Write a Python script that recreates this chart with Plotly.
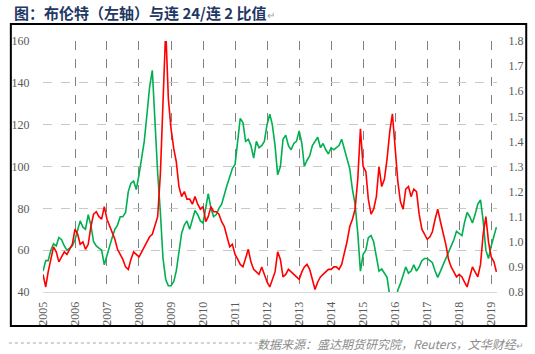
import plotly.graph_objects as go
import pandas as pd

# Monthly samples, Jan 2005 .. Mar 2019
brent = [
    50, 55, 55, 60, 63, 62, 66, 65, 62, 60, 61, 62,          # 2005
    65, 70, 74, 71, 70, 77, 72, 64, 62, 61, 60, 53,          # 2006
    58, 62, 66, 70, 72, 76, 76, 78, 88, 92, 93, 89,          # 2007
    96, 104, 112, 125, 138, 146, 120, 97, 78, 56, 46, 43,    # 2008
    43, 45, 50, 60, 68, 72, 74, 70, 75, 79, 77, 74,          # 2009
    73, 81, 87, 80, 76, 77, 80, 82, 87, 91, 95, 99,          # 2010
    101, 112, 123, 121, 112, 113, 110, 104, 112, 109, 110, 112,  # 2011
    120, 125, 120, 110, 96, 100, 113, 115, 110, 108, 111, 112,   # 2012
    117, 111, 100, 103, 105, 110, 112, 114, 109, 111, 108, 106,  # 2013
    109, 108, 109, 110, 113, 108, 103, 99, 89, 82, 68, 50,       # 2014
    58, 60, 66, 67, 64, 56, 50, 51, 49, 47, 38, 32,          # 2015
    34, 41, 44, 48, 52, 49, 50, 53, 50, 52, 55, 56,          # 2016
    56, 55, 54, 50, 47, 50, 53, 56, 59, 62, 65, 69,          # 2017
    68, 67, 73, 78, 76, 73, 77, 82, 84, 74, 60, 56,          # 2018
    62, 67, 71,                                              # 2019
]
ratio = [
    0.87, 0.82, 0.88, 0.93, 0.98, 0.96, 0.92, 0.94, 0.96, 0.95, 0.97, 0.99,  # 2005
    1.05, 1.03, 0.99, 1.00, 0.97, 0.99, 1.06, 1.11, 1.12, 1.10, 1.09, 1.14,  # 2006
    1.09, 1.06, 1.04, 1.01, 0.97, 0.95, 0.93, 0.90, 0.89, 0.93, 0.96, 0.95,  # 2007
    0.94, 0.96, 0.98, 1.00, 1.02, 1.03, 1.07, 1.10, 1.27, 1.58, 1.85, 1.57,  # 2008
    1.45, 1.37, 1.32, 1.22, 1.18, 1.20, 1.17, 1.17, 1.15, 1.18, 1.15, 1.13,  # 2009
    1.14, 1.08, 1.10, 1.14, 1.12, 1.12, 1.11, 1.08, 1.06, 1.02, 0.98, 0.99,  # 2010
    0.95, 0.93, 0.91, 0.90, 0.94, 0.97, 0.92, 0.89, 0.88, 0.87, 0.90, 0.87,  # 2011
    0.84, 0.82, 0.85, 0.88, 0.96, 0.93, 0.86, 0.87, 0.89, 0.88, 0.87, 0.86,  # 2012
    0.85, 0.88, 0.90, 0.91, 0.89, 0.85, 0.81, 0.84, 0.86, 0.87, 0.88, 0.89,  # 2013
    0.89, 0.90, 0.90, 0.89, 0.91, 0.95, 1.00, 1.06, 1.09, 1.13, 1.25, 1.45,  # 2014
    1.30, 1.28, 1.17, 1.11, 1.13, 1.18, 1.30, 1.22, 1.25, 1.33, 1.44, 1.51,  # 2015
    1.38, 1.24, 1.16, 1.13, 1.21, 1.22, 1.18, 1.21, 1.20, 1.11, 1.05, 1.03,  # 2016
    1.01, 1.02, 1.04, 1.09, 1.13, 1.08, 1.04, 0.99, 0.93, 0.90, 0.88, 0.86,  # 2017
    0.87, 0.86, 0.84, 0.82, 0.86, 0.90, 0.88, 0.86, 0.91, 1.03, 1.10, 1.00,  # 2018
    0.94, 0.92, 0.88,                                                        # 2019
]
dates = pd.date_range("2005-01-01", periods=len(brent), freq="MS")
years = list(range(2005, 2020))
year_labels = [str(y) for y in years]

title_text = "图：布伦特（左轴）与连 24/连 2 比值"
source_text = "数据来源：盛达期货研究院，Reuters，文华财经"

# plot-area geometry in pixels (for paper-coordinate decorations)
W, H = 535, 354
L, R, T, B = 36, 33, 41, 62
pw, ph = W - L - R, H - T - B
def px(x): return (x - L) / pw
def py(y): return (H - B - y) / ph

tickfont = dict(family="Liberation Serif", size=12, color="#595959")

fig = go.Figure()
fig.add_trace(go.Scatter(x=dates, y=brent, mode="lines", yaxis="y",
                         line=dict(color="#00B050", width=1.6), name="布伦特"))
fig.add_trace(go.Scatter(x=dates, y=ratio, mode="lines", yaxis="y2",
                         line=dict(color="#FF0000", width=1.6), name="连24/连2"))

fig.update_layout(
    width=W, height=H, autosize=False,
    margin=dict(l=L, r=R, t=T, b=B),
    paper_bgcolor="white", plot_bgcolor="white",
    showlegend=False,
    xaxis=dict(type="date", range=["2005-01-01", "2019-03-08"],
               tickvals=[f"{y}-01-01" for y in years], ticktext=year_labels,
               tickangle=-90, tickfont=tickfont,
               ticks="outside", ticklen=4, tickcolor="rgba(0,0,0,0)",
               showgrid=True, gridcolor="#808080", griddash="dash", gridwidth=1,
               showline=True, linecolor="#d9d9d9", linewidth=1, zeroline=False),
    yaxis=dict(range=[40, 160], dtick=20, tickfont=tickfont,
               ticks="outside", ticklen=10, tickcolor="rgba(0,0,0,0)",
               showgrid=True, gridcolor="#c8c8c8", griddash="dash", gridwidth=1,
               showline=False, zeroline=False),
    yaxis2=dict(range=[0.8, 1.8], dtick=0.1, tickformat=".1f", tickfont=tickfont,
                overlaying="y", side="right",
                ticks="outside", ticklen=8, tickcolor="rgba(0,0,0,0)",
                showgrid=False, showline=False, zeroline=False),
    shapes=[
        dict(type="rect", xref="paper", yref="paper",
             x0=px(3), x1=px(532), y0=py(326), y1=py(24),
             line=dict(color="black", width=2), fillcolor="rgba(0,0,0,0)"),
        dict(type="line", xref="paper", yref="paper",
             x0=px(1), x1=px(266), y0=py(343), y1=py(343),
             line=dict(color="#a6a6a6", width=1, dash="dot")),
    ],
    annotations=[
        dict(text=title_text + "<span style='color:#a0a0a0;font-size:10px;font-weight:normal'>↵</span>",
             xref="paper", yref="paper", x=px(4), y=py(12),
             xanchor="left", yanchor="middle", showarrow=False,
             font=dict(family="Noto Sans CJK SC, Noto Sans, sans-serif", size=15,
                       color="#1F3864", weight="bold")),
        dict(text="<i>" + source_text + "</i><span style='color:#a0a0a0;font-size:9px'>↵</span>",
             xref="paper", yref="paper", x=px(532), y=py(343),
             xanchor="right", yanchor="middle", showarrow=False,
             font=dict(family="Noto Sans CJK SC, Noto Sans, sans-serif", size=12,
                       color="#8c8c8c")),
    ],
)

fig.write_html("out.html")
